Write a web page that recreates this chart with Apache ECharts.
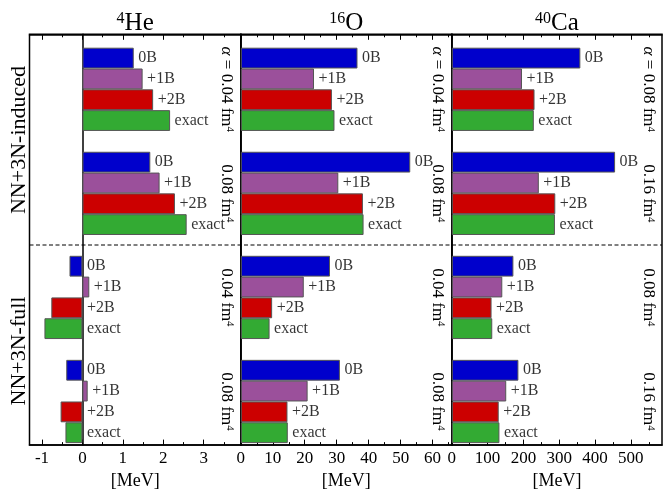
<!DOCTYPE html>
<html><head><meta charset="utf-8">
<script src="https://cdn.jsdelivr.net/npm/echarts@6/dist/echarts.min.js"></script>
<style>html,body{margin:0;padding:0;background:#fff}#c{width:663px;height:495px}</style>
</head><body><div id="c"></div>
<script>
// ---- data ----
const components = ['0B', '+1B', '+2B', 'exact'];
const groups = ['NN+3N-induced α1', 'NN+3N-induced α2', 'NN+3N-full α1', 'NN+3N-full α2'];
const he4_0B    = [1.27, 1.68, -0.32, -0.40];
const he4_1B    = [1.49, 1.91, 0.17, 0.13];
const he4_2B    = [1.75, 2.29, -0.77, -0.54];
const he4_exact = [2.17, 2.58, -0.94, -0.42];
const o16_0B    = [36.5, 53.0, 27.9, 31.0];
const o16_1B    = [22.9, 30.5, 19.7, 20.9];
const o16_2B    = [28.5, 38.2, 9.8, 14.6];
const o16_exact = [29.3, 38.4, 9.0, 14.7];
const ca40_0B    = [359, 456, 172, 186];
const ca40_1B    = [196, 243, 141, 152];
const ca40_2B    = [231, 289, 111, 131];
const ca40_exact = [229, 288, 113, 133];
const he4_alpha  = ['0.04', '0.08', '0.04', '0.08'];
const o16_alpha  = ['0.04', '0.08', '0.04', '0.08'];
const ca40_alpha = ['0.08', '0.16', '0.08', '0.16'];
const he4_range = [-1.31, 3.92];
const o16_range = [0, 66];
const ca40_range = [0, 587];
const he4_major = [-1, 0, 1, 2, 3];
const he4_minor = [-0.5, 0.5, 1.5, 2.5, 3.5];
const o16_major = [0, 10, 20, 30, 40, 50, 60];
const o16_minor = [5, 15, 25, 35, 45, 55, 65];
const ca40_major = [0, 100, 200, 300, 400, 500];
const ca40_minor = [50, 150, 250, 350, 450, 550];
const sideLabels = ['NN+3N-induced', 'NN+3N-full'];
const axisName = '[MeV]';

// ---- styles/layout ----
const colors = ['#0000cc', '#9b509b', '#cc0000', '#33aa33'];
const FONT = 'Liberation Serif';
const layout = [{left: 29.5, width: 211.3}, {left: 240.8, width: 211}, {left: 451.8, width: 210.2}];
const FRAME_TOP = 34.3, FRAME_H = 421.7, BAR_TOP = 47.7, BAR_H = 395.4, NSLOT = 19;
const slotH = BAR_H / NSLOT;

const panels = [
  {sup: '4', main: 'He', range: he4_range, major: he4_major, minor: he4_minor, vals: [he4_0B, he4_1B, he4_2B, he4_exact], alpha: he4_alpha},
  {sup: '16', main: 'O', range: o16_range, major: o16_major, minor: o16_minor, vals: [o16_0B, o16_1B, o16_2B, o16_exact], alpha: o16_alpha},
  {sup: '40', main: 'Ca', range: ca40_range, major: ca40_major, minor: ca40_minor, vals: [ca40_0B, ca40_1B, ca40_2B, ca40_exact], alpha: ca40_alpha}
];

const grid = [], xAxis = [], yAxis = [], series = [], graphic = [];
const slotNames = Array.from({length: NSLOT}, (_, i) => 's' + i);

panels.forEach((p, pi) => {
  const L = layout[pi];
  grid.push({left: L.left, width: L.width, top: FRAME_TOP, height: FRAME_H, show: true, borderColor: '#000', borderWidth: 1.5, backgroundColor: 'transparent'});
  grid.push({left: L.left, width: L.width, top: BAR_TOP, height: BAR_H});
  const fg = pi * 2, bg = pi * 2 + 1;
  const base = {type: 'value', gridIndex: fg, min: p.range[0], max: p.range[1], splitLine: {show: false}};
  xAxis.push(Object.assign({}, base, {
    position: 'bottom',
    axisLine: {show: true, onZero: false, lineStyle: {color: '#000', width: 1.5}},
    axisTick: {show: true, inside: true, length: 5.5, customValues: p.major, lineStyle: {color: '#000', width: 1}},
    axisLabel: {show: true, customValues: p.major, margin: 5, color: '#000', fontFamily: FONT, fontSize: 17},
    name: axisName, nameLocation: 'middle', nameGap: 20,
    nameTextStyle: {color: '#000', fontFamily: FONT, fontSize: 18}
  }));
  xAxis.push(Object.assign({}, base, {
    position: 'bottom', axisLine: {show: false, onZero: false},
    axisTick: {show: true, inside: true, length: 3, customValues: p.minor, lineStyle: {color: '#000', width: 1}},
    axisLabel: {show: false}
  }));
  xAxis.push(Object.assign({}, base, {
    position: 'top', axisLine: {show: true, onZero: false, lineStyle: {color: '#000', width: 1.5}},
    axisTick: {show: true, inside: true, length: 5.5, customValues: p.major, lineStyle: {color: '#000', width: 1}},
    axisLabel: {show: false}
  }));
  xAxis.push(Object.assign({}, base, {
    position: 'top', axisLine: {show: false, onZero: false},
    axisTick: {show: true, inside: true, length: 3, customValues: p.minor, lineStyle: {color: '#000', width: 1}},
    axisLabel: {show: false}
  }));
  xAxis.push({type: 'value', gridIndex: bg, min: p.range[0], max: p.range[1], show: false});
  yAxis.push({type: 'value', gridIndex: fg, min: 0, max: 1,
    axisLine: {show: true, onZero: true, onZeroAxisIndex: pi * 5, lineStyle: {color: '#000', width: 1.5}},
    axisTick: {show: false}, axisLabel: {show: false}, splitLine: {show: false}});
  yAxis.push({type: 'category', gridIndex: bg, data: slotNames, inverse: true, show: false});

  const xb = pi * 5 + 4;
  p.vals.forEach((arr, ci) => {
    const data = slotNames.map(() => '-');
    arr.forEach((v, g) => { data[g * 5 + ci] = v; });
    series.push({
      type: 'bar', name: components[ci], xAxisIndex: xb, yAxisIndex: bg, data: data,
      barGap: '-100%', barCategoryGap: '0%', silent: true,
      itemStyle: {color: colors[ci], borderColor: '#555', borderWidth: 1}
    });
  });
  const lab = [];
  p.vals.forEach((arr, ci) => arr.forEach((v, g) => {
    lab.push({value: [Math.max(v, 0), g * 5 + ci], name: components[ci]});
  }));
  series.push({
    type: 'scatter', xAxisIndex: xb, yAxisIndex: bg, data: lab, symbolSize: 1, silent: true,
    itemStyle: {color: 'rgba(0,0,0,0)'},
    label: {show: true, position: 'right', distance: 4, formatter: '{b}', color: '#000', fontFamily: FONT, fontSize: 16}
  });

  // title
  const cx = L.left + L.width / 2;
  graphic.push({type: 'text', x: cx, y: 23, silent: true, style: {
    text: '{s|' + p.sup + '}{m|' + p.main + '}', align: 'center', verticalAlign: 'middle',
    fontFamily: FONT, fill: '#000',
    rich: {s: {fontSize: 16, fontFamily: FONT, verticalAlign: 'top', lineHeight: 9, fill: '#000'},
           m: {fontSize: 25, fontFamily: FONT, verticalAlign: 'bottom', lineHeight: 25, fill: '#000'}}
  }});
  // rotated alpha labels
  p.alpha.forEach((a, g) => {
    const cy = BAR_TOP + (g * 5 + 2) * slotH;
    const txt = (g === 0 ? '{i|α} = ' : '') + a + ' fm{s|4}';
    graphic.push({type: 'text', x: L.left + L.width - 14, y: cy, rotation: -Math.PI / 2, silent: true, style: {
      text: txt, align: 'center', verticalAlign: 'middle', fontFamily: FONT, fontSize: 17, fill: '#000',
      rich: {i: {fontStyle: 'italic', fontFamily: FONT, fontSize: 17, verticalAlign: 'bottom', lineHeight: 17, fill: '#000'},
             s: {fontSize: 11, fontFamily: FONT, verticalAlign: 'top', lineHeight: 6, fill: '#000'}}
    }});
  });
});

graphic.push({type: 'line', silent: true, shape: {x1: 29.5, y1: 245, x2: 662, y2: 245}, style: {stroke: '#000', lineWidth: 1, lineDash: [4, 2.5]}});
graphic.push({type: 'text', x: 19, y: 140, rotation: Math.PI / 2, silent: true, style: {text: sideLabels[0], align: 'center', verticalAlign: 'middle', fontFamily: FONT, fontSize: 22, fill: '#000'}});
graphic.push({type: 'text', x: 19, y: 351, rotation: Math.PI / 2, silent: true, style: {text: sideLabels[1], align: 'center', verticalAlign: 'middle', fontFamily: FONT, fontSize: 22, fill: '#000'}});

const chart = echarts.init(document.getElementById('c'), null, {renderer: 'canvas'});
chart.setOption({animation: false, backgroundColor: '#fff', grid, xAxis, yAxis, series, graphic});
</script></body></html>
